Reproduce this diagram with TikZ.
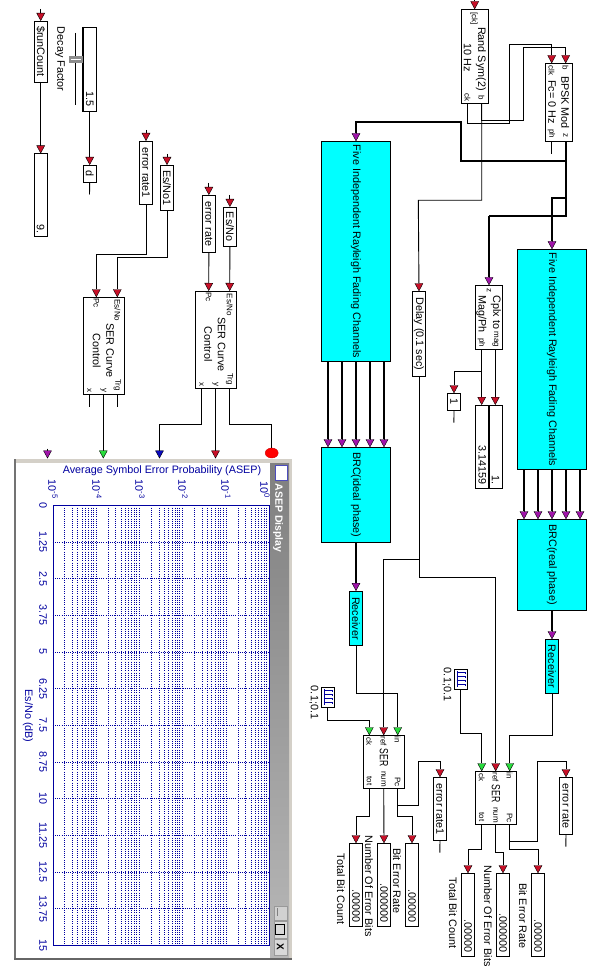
\documentclass[tikz,border=0pt]{standalone}
\usepackage{fontspec}
\setmainfont{Liberation Sans}
\usepackage{graphicx}
\usepackage{tikz}
\usetikzlibrary{shapes,shapes.geometric,arrows,arrows.meta,positioning,calc,fit,backgrounds}
\definecolor{tipred}{RGB}{200,16,40}
\definecolor{tipmag}{RGB}{160,20,170}
\definecolor{tipgreen}{RGB}{40,220,60}
\definecolor{tipblue}{RGB}{10,10,190}
\definecolor{plotblue}{RGB}{0,0,160}
\definecolor{chanfill}{RGB}{0,255,255}
\definecolor{wingray}{RGB}{212,208,200}
\newcommand{\rt}[1]{\rotatebox{-90}{#1}}
\newcommand{\val}[2]{\rotatebox{-90}{\makebox[#1][r]{#2}}}

\begin{document}
\begin{tikzpicture}[
    x=1pt, y=-1pt,
    every node/.style={font=\fontsize{10.8}{12}\selectfont},
    sz/.style 2 args={minimum width=#1pt, minimum height=#2pt},
    blk/.style={rectangle, draw=black, fill=white, line width=.8pt, inner sep=0pt, outer sep=0pt, anchor=north west},
    chan/.style={blk, fill=chanfill},
    txt/.style={rotate=-90, inner sep=0pt},
    port/.style={txt, font=\fontsize{8}{9}\selectfont},
    wire/.style={draw=black, line width=.9pt},
    bus/.style={draw=black, line width=1.9pt},
    redtip/.style={-{Triangle[length=8pt,width=8.5pt,line width=.4pt,fill=tipred]}},
    magtip/.style={-{Triangle[length=8pt,width=8.5pt,line width=.4pt,fill=tipmag]}},
    greentip/.style={-{Triangle[length=8pt,width=8.5pt,line width=.4pt,fill=tipgreen]}},
    bluetip/.style={-{Triangle[length=8pt,width=8.5pt,line width=.4pt,fill=tipblue]}},
    grid line/.style={draw=plotblue, line width=.55pt, dash pattern=on .7pt off 1.5pt},
    pulse/.style={draw=plotblue, line width=.5pt},
    plotlab/.style={txt, text=plotblue}
]
\useasboundingbox (0,0) rectangle (595,973);

% Meter window
\fill[wingray] (14,459) rectangle (292,960);
\fill[black!55] (14,459) rectangle (15.6,960);
\fill[black!60] (14,958) rectangle (292,960);
\fill[white] (15.6,463) rectangle (270,957.5);
\shade[top color=black!50, bottom color=black!28] (270,463) rectangle (289,957.5);
\node[rectangle, draw=plotblue!70, line width=1pt, fill=white, sz={12.5}{15.5}, inner sep=0pt, anchor=north west] (winicon) at (274.5,464.5) {};
\node[txt, font=\bfseries\fontsize{10.5}{12}\selectfont, text=white, anchor=west] (wintitle) at (278,483.5) {ASEP Display};
\node[rectangle, draw=black!40, fill=black!18, sz={13}{14.5}, inner sep=0pt, anchor=north west] (winmin) at (273.5,905.5) {};
\draw[black!50, line width=1pt] (277,908) -- (277,916);
\node[rectangle, draw=black!40, fill=black!15, sz={13}{17}, inner sep=0pt, anchor=north west] (winmax) at (273.5,921) {};
\draw[black, line width=1pt] (275.5,924.5) rectangle (284.5,934.5);
\node[rectangle, draw=black!40, fill=black!15, sz={13}{16}, inner sep=0pt, anchor=north west] (winclose) at (273.5,939) {\rt{\bfseries\fontsize{10}{10}\selectfont X}};

% Plot
\foreach \i in {1,...,11} \draw[grid line] (52.7,{505.3+36.67*\i}) -- (269,{505.3+36.67*\i});
\foreach \d in {0,...,4} {
  \foreach \m in {2,...,9} \draw[grid line] ({52.7+43.27*(\d+log10(\m))-1},505.3) -- ({52.7+43.27*(\d+log10(\m))-1},945.3);
  \draw[grid line] ({52.7+43.27*(\d+1)},505.3) -- ({52.7+43.27*(\d+1)},945.3);
}
\node[rectangle, draw=plotblue, line width=.7pt, sz={216.3}{440}, inner sep=0pt, anchor=north west] (plotarea) at (52.7,505.3) {};
\node[text=plotblue, inner sep=0pt] (plottitle) at (162,471) {Average Symbol Error Probability (ASEP)};
\node[plotlab] (plotx) at (28,716) {Es/No (dB)};
\foreach \lab [count=\i from 0] in {0,1.25,2.5,3.75,5,6.25,7.5,8.75,10,11.25,12.5,13.75,15}
  \node[plotlab] (ylab\i) at (43,{505.3+36.67*\i}) {\lab};
\foreach \e/\xp in {-5/53,-4/97,-3/140,-2/183,-1/226,0/265}
  \node[plotlab] (xlab\xp) at (\xp,489.5) {10\textsuperscript{\e}};

% Run counter and slider
\node[blk, sz={13.4}{61}] (runcnt) at (34,21) {\rt{\$runCount}};
\node[blk, sz={13.4}{83}, below=71.5pt of runcnt.south, anchor=north] (cntval) {\val{77pt}{9.}};
\node[blk, sz={13.8}{84}] (slider) at (82.8,27) {\val{76pt}{1.5}};
\draw[black, line width=1.6pt] (slider.north west) -- (slider.south west);
\coordinate (trktop) at (75.5,33);
\coordinate (trkbot) at (75.5,105);
\draw[wire] (trktop) -- (trkbot);
\node[rectangle, fill=black!45, sz={14}{6.5}, inner sep=0pt, anchor=north west] (thumb) at (69,56) {};
\draw[white, line width=.7pt] (71,59.3) -- (81,59.3);
\node[txt] (decay) at (60,59) {Decay Factor};
\node[blk, sz={13.4}{17.5}, below=54pt of slider.south, anchor=north] (dvar) {\rt{d}};
\coordinate (dend) at (89.5,194.5);

% SER curve controls
\node[blk, sz={13.4}{63.3}] (err1) at (139.3,141) {\rt{error rate1}};
\node[blk, sz={13.4}{45.7}] (esno1) at (160.3,165) {\rt{Es/No1}};
\node[blk, sz={13.7}{57.7}] (err0) at (202,195) {\rt{error rate}};
\node[blk, sz={13.2}{39.3}] (esno0) at (223.3,207) {\rt{Es/No}};

\node[blk, sz={41}{97}] (ctrl1) at (83.3,297.3) {};
\node[txt] (ctrl1a) at (110,350.5) {SER Curve};
\node[txt] (ctrl1b) at (96.7,350.7) {Control};
\node[port] (ctrl1p) at (96.3,303) {Pc};
\node[port] (ctrl1e) at (117.5,310.5) {Es/No};
\node[port] (ctrl1x) at (89.3,390) {x};
\node[port] (ctrl1y) at (103.3,390) {y};
\node[port] (ctrl1t) at (117.3,385) {Trg};
\node[blk, sz={41}{97.3}] (ctrl0) at (195.5,291) {};
\node[txt] (ctrl0a) at (221.7,344.5) {SER Curve};
\node[txt] (ctrl0b) at (208.3,344.3) {Control};
\node[port] (ctrl0p) at (208.7,297) {Pc};
\node[port] (ctrl0e) at (229.7,304.7) {Es/No};
\node[port] (ctrl0x) at (201.5,384) {x};
\node[port] (ctrl0y) at (215.5,384) {y};
\node[port] (ctrl0t) at (229.5,379) {Trg};

\coordinate (c1pin) at (96.3,297.3);
\coordinate (c1ein) at (117.3,297.3);
\coordinate (c1xout) at (89.3,394.3);
\coordinate (c1yout) at (103.3,394.3);
\coordinate (c1tout) at (117.3,394.3);
\coordinate (c1xend) at (89.3,406.7);
\coordinate (c1tend) at (117.3,406.7);
\coordinate (c0pin) at (208.7,291);
\coordinate (c0ein) at (229.7,291);
\coordinate (c0xout) at (201.5,388.3);
\coordinate (c0yout) at (215.5,388.3);
\coordinate (c0tout) at (229.5,388.3);
\coordinate (inmag) at (47.5,458.5);
\coordinate (ingreen) at (103.3,458.5);
\coordinate (inblue) at (159.5,458.5);
\coordinate (inred) at (215.5,458.5);
\node[ellipse, draw=red!80!black, line width=.4pt, fill=red, sz={13}{10}, inner sep=0pt] (intrig) at (271.7,453) {};

% Source and modulator
\node[blk, sz={26.6}{94}] (rand) at (461.7,9.3) {};
\node[port] (randck) at (474,18.5) {[ck]};
\node[txt] (randa) at (481,59) {Rand Sym(2)};
\node[txt] (randb) at (467.7,58) {10 Hz};
\node[port] (randc) at (467.5,97.5) {ck};
\node[port] (randd) at (481.5,98) {b};
\node[blk, sz={26.6}{78.4}] (bpsk) at (545.7,63.3) {};
\node[port] (bpskb) at (565.5,68) {b};
\node[port] (bpskc) at (551.5,70.5) {clk};
\node[txt] (bpskm) at (565.3,102.5) {BPSK Mod};
\node[txt] (bpskf) at (552,102) {Fc= 0 Hz};
\node[port] (bpskp) at (551.5,134) {ph};
\node[port] (bpskz) at (565.5,136) {z};
\coordinate (randcko) at (467.7,103.3);
\coordinate (randbo) at (481.7,103.3);
\coordinate (bpskci) at (551.7,63.3);
\coordinate (bpskbi) at (565.7,63.3);
\coordinate (bpskzo) at (565.7,141.7);
\coordinate (bpskpo) at (551.7,141.7);
\coordinate (bpskpe) at (551.7,153.7);
\coordinate (randin) at (474.7,9.3);

% Channels
\node[chan, sz={69.4}{220.4}] (fiveL) at (321.3,141.3) {\rt{Five Independent Rayleigh Fading Channels}};
\node[chan, sz={69.4}{95}, below=85.6pt of fiveL.south, anchor=north] (brcL) {\rt{BRC(ideal phase)}};
\node[chan, sz={13.4}{54.7}, below=48.7pt of brcL.south, anchor=north] (rcvL) {\rt{Receiver}};
\node[chan, sz={69.4}{220}] (fiveR) at (517.3,249.3) {\rt{Five Independent Rayleigh Fading Channels}};
\node[chan, sz={69.4}{91}, below=50pt of fiveR.south, anchor=north] (brcR) {\rt{BRC(real phase)}};
\node[chan, sz={13.4}{54}, below=29pt of brcR.south, anchor=north] (rcvR) {\rt{Receiver}};

% Delay and magnitude
\node[blk, sz={13.4}{85}] (delay) at (412.3,291.3) {\rt{Delay (0.1 sec)}};
\node[blk, sz={26.6}{64}] (cplx) at (475.7,285.3) {};
\node[port] (cplxz) at (489,290) {z};
\node[txt, anchor=west] (cplxa) at (495.8,295.5) {Cplx to};
\node[txt, anchor=west] (cplxb) at (481.5,295) {Mag/Ph};
\node[port, anchor=east] (cplxm) at (495.5,347.5) {mag};
\node[port, anchor=east] (cplxp) at (481.5,347.5) {ph};
\coordinate (cplxpo) at (481.7,349.3);
\coordinate (cplxmo) at (495.3,349.3);
\coordinate (cplxtap) at (481.7,371.7);
\node[blk, sz={13.4}{17.4}] (constk) at (447.3,393.3) {\rt{1}};
\coordinate (constend) at (453.9,422.7);
\node[blk, sz={13.3}{83.3}] (phval) at (475.7,405) {\val{76pt}{3.14159}};
\node[blk, sz={13.3}{83.3}] (magval) at (489,405) {\val{76pt}{1.}};
\draw[black, line width=1.3pt] (magval.north west) -- (magval.south west);
\coordinate (phin) at (481.7,405);
\coordinate (magin) at (495.3,405);
\coordinate (cplxin) at (489,285.3);

% Clocks
\node[blk, sz={13.4}{20.4}] (clkL) at (321.3,687.3) {};
\node[blk, sz={13.4}{20}] (clkR) at (454.3,669.3) {};
\foreach \cx/\cy in {321.3/687.3,454.3/669.3} {
  \draw[pulse] ({\cx+2.5},{\cy+2}) -- ({\cx+2.5},{\cy+18});
  \foreach \k in {0,1,2,3}
    \draw[pulse] ({\cx+2.5},{\cy+3+4*\k}) -- ({\cx+10.5},{\cy+3+4*\k}) -- ({\cx+10.5},{\cy+4.5+4*\k});
}
\node[txt] (clkLlab) at (314,702.5) {0.1;0.1};
\node[txt] (clkRlab) at (447,684.5) {0.1;0.1};
\coordinate (clkLo) at (327.7,707.7);
\coordinate (clkRo) at (460.7,689.3);

% SER blocks
\node[blk, sz={41}{53}] (serL) at (363.3,735.3) {};
\node[txt] (serLt) at (384,757.5) {\scalebox{.8}[1.1]{SER}};
\foreach \lab/\px/\py [count=\i] in {ck/369.3/741,ref/383.5/741,in/397.5/740,tot/369.3/781,num/383.5/779,Pc/397.5/782}
  \node[port] (serLp\i) at (\px,\py) {\lab};
\node[blk, sz={41}{53}] (serR) at (475.7,771.3) {};
\node[txt] (serRt) at (496,793.5) {\scalebox{.8}[1.1]{SER}};
\foreach \lab/\px/\py [count=\i] in {ck/481.7/777,ref/495.5/777,in/509.5/776,tot/481.7/817,num/495.5/815,Pc/509.5/818}
  \node[port] (serRp\i) at (\px,\py) {\lab};
\coordinate (serLck) at (369.3,735.3);
\coordinate (serLrf) at (383.7,735.3);
\coordinate (serLin) at (397.7,735.3);
\coordinate (serLto) at (369.3,788.3);
\coordinate (serLnu) at (383.7,788.3);
\coordinate (serLpc) at (397.7,788.3);
\coordinate (serRck) at (481.7,771.3);
\coordinate (serRrf) at (495.7,771.3);
\coordinate (serRin) at (509.7,771.3);
\coordinate (serRto) at (481.7,824.3);
\coordinate (serRnu) at (495.7,824.3);
\coordinate (serRpc) at (509.7,824.3);

% Displays
\node[blk, sz={13.4}{83}] (totL) at (349.3,843.3) {\val{76pt}{.00000}};
\node[blk, sz={13.4}{83}] (numL) at (377.3,843.3) {\val{76pt}{.000000}};
\node[blk, sz={13.4}{83}] (berL) at (405.3,843.3) {\val{76pt}{.00000}};
\node[blk, sz={13.4}{63.4}] (errL) at (433.3,777.3) {\rt{error rate1}};
\coordinate (errLend) at (439.8,852.7);
\node[txt] (totLlab) at (341,889) {Total Bit Count};
\node[txt] (numLlab) at (369,886) {Number Of Error Bits};
\node[txt] (berLlab) at (397,881) {Bit Error Rate};
\node[blk, sz={13.4}{83}] (totR) at (461.3,873.3) {\val{76pt}{.00000}};
\node[blk, sz={13.4}{83}] (numR) at (496.3,873.3) {\val{76pt}{.000000}};
\node[blk, sz={13.4}{83}] (berR) at (531.3,873.3) {\val{76pt}{.00000}};
\node[blk, sz={13.4}{57.4}] (errR) at (559.3,777.3) {\rt{error rate}};
\coordinate (errRend) at (565.8,846.7);
\node[txt] (totRlab) at (453,913) {Total Bit Count};
\node[txt] (numRlab) at (488,916) {Number Of Error Bits};
\node[txt] (berRlab) at (523,916) {Bit Error Rate};

% Arrows
\draw[wire, redtip] ([yshift=12pt]runcnt.north) -- (runcnt.north);
\draw[wire, redtip] (runcnt) -- (cntval);
\draw[wire, redtip] (slider.south -| dvar.north) -- (dvar.north);
\draw[wire] (dvar.south) -- (dend);
\draw[wire, redtip] ([yshift=11pt]err1.north) -- (err1.north);
\draw[wire, redtip] ([yshift=11pt]esno1.north) -- (esno1.north);
\draw[wire, redtip] ([yshift=12pt]err0.north) -- (err0.north);
\draw[wire, redtip] ([yshift=12pt]esno0.north) -- (esno0.north);
\draw[wire, redtip] (err1.south) -- ++(0,50) -| (c1pin);
\draw[wire, redtip] (esno1.south) -- ++(0,46.6) -| (c1ein);
\draw[wire, redtip] (err0.south) -- (c0pin);
\draw[wire, redtip] (esno0.south) -- (c0ein);
\draw[wire] (c1xout) -- (c1xend);
\draw[wire] (c1tout) -- (c1tend);
\draw[wire, greentip] (c1yout) -- (ingreen);
\draw[wire, bluetip] (c0xout) -- ++(0,36) -| (inblue);
\draw[wire, redtip] (c0yout) -- (inred);
\draw[wire] (c0tout) -- ++(0,36) -| (intrig);
\draw[wire, magtip] ([yshift=10pt]inmag) -- (inmag);

\draw[wire, redtip] ([yshift=10pt]randin) -- (randin);
\draw[wire, redtip] (randcko) -- ++(0,20) -- ++(41.6,0) -- ++(0,-79) -| (bpskci);
\draw[wire, redtip] (randbo) -- ++(0,17) -- ++(41.6,0) -- ++(0,-73) -| (bpskbi);
\draw[wire, redtip] (randbo) -- ++(0,97) -- ++(-63.4,0) -- (delay.north);
\draw[wire] (bpskpo) -- (bpskpe);
\draw[bus] (bpskzo) -- ++(0,74.3) -- ++(-76.7,0);
\draw[bus] (bpskzo) ++(0,19.3) -- ++(-104.7,0) -- ++(0,-39) -| ([yshift=8pt]fiveL.north);
\draw[bus] (bpskzo) ++(0,56.3) -- ++(-13.7,0) -- ([yshift=8pt]fiveR.north);
\draw[bus] (bpskzo) ++(-76.7,74.3) -- ([yshift=8pt]cplxin);
\draw[wire, magtip] ([yshift=8.5pt]fiveL.north) -- (fiveL.north);
\draw[wire, magtip] ([yshift=8.5pt]fiveR.north) -- (fiveR.north);
\draw[wire, magtip] ([yshift=8.5pt]cplxin) -- (cplxin);
\draw[wire, redtip] (cplxpo) -- (phin);
\draw[wire, redtip] (cplxmo) -- (magin);
\draw[wire, redtip] (cplxtap) -| (constk.north);
\draw[wire] (constk.south) -- (constend);

% Channel buses
\foreach \k in {-2,-1,0,1,2} {
  \draw[bus] ([xshift=\k*14pt]fiveL.south) -- ([xshift=\k*14pt, yshift=8pt]brcL.north);
  \draw[wire, magtip] ([xshift=\k*14pt, yshift=8.5pt]brcL.north) -- ([xshift=\k*14pt]brcL.north);
  \draw[bus] ([xshift=\k*14pt]fiveR.south) -- ([xshift=\k*14pt, yshift=8pt]brcR.north);
  \draw[wire, magtip] ([xshift=\k*14pt, yshift=8.5pt]brcR.north) -- ([xshift=\k*14pt]brcR.north);
}
\draw[bus] (brcL.south) -- ([yshift=8pt]rcvL.north);
\draw[wire, magtip] ([yshift=8.5pt]rcvL.north) -- (rcvL.north);
\draw[bus] (brcR.south) -- ([yshift=8pt]rcvR.north);
\draw[wire, magtip] ([yshift=8.5pt]rcvR.north) -- (rcvR.north);

% Delay branch
\draw[wire, redtip] (delay.south) -- ++(0,201) -| (serRrf);
\draw[wire, redtip] (delay.south) -- ++(0,183) -| (serLrf);
\draw[wire, greentip] (rcvL.south) -- ++(0,47.6) -| (serLin);
\draw[wire, greentip] (rcvR.south) -- ++(0,41.7) -| (serRin);
\draw[wire, greentip] (clkLo) -- ++(0,13) -| (serLck);
\draw[wire, greentip] (clkRo) -- ++(0,44) -| (serRck);

% Outputs
\draw[wire, redtip] (serLto) -- ++(0,28.4) -| (totL.north);
\draw[wire, redtip] (serLnu) -- (numL.north);
\draw[wire, redtip] (serLpc) -- ++(0,28.4) -| (berL.north);
\draw[wire, redtip] (serLpc) ++(0,17) -- ++(20.6,0) -- ++(0,-43.6) -| (errL.north);
\draw[wire] (errL.south) -- (errLend);
\draw[wire, redtip] (serRto) -- ++(0,25) -| (totR.north);
\draw[wire, redtip] (serRnu) -- ++(0,28.4) -| (numR.north);
\draw[wire, redtip] (serRpc) -- ++(0,25) -| (berR.north);
\draw[wire, redtip] (serRpc) ++(0,17) -- ++(28,0) -- ++(0,-79.6) -| (errR.north);
\draw[wire] (errR.south) -- (errRend);

\end{tikzpicture}
\end{document}
